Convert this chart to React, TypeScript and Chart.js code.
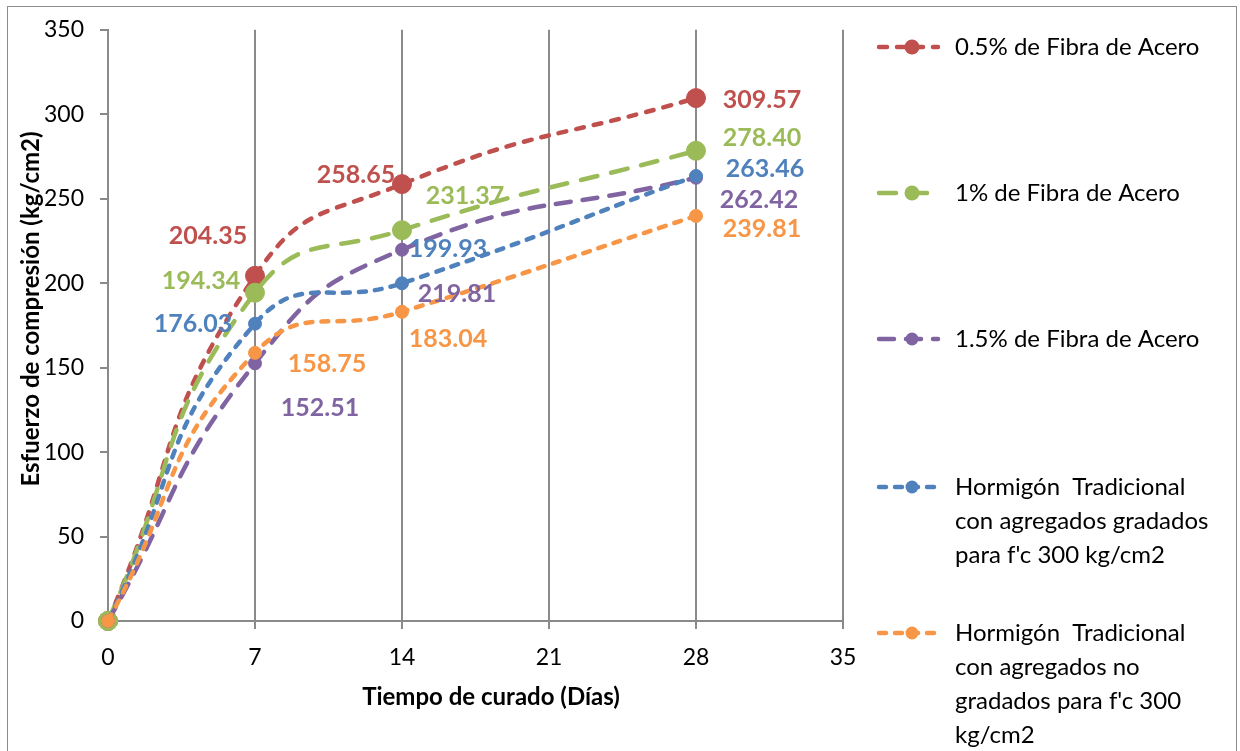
import { useEffect, useRef } from "react";
import { Chart, registerables } from "chart.js";

Chart.register(...registerables);

// ---- data ----
const days = [0, 7, 14, 28];
const fibra05 = [0, 204.35, 258.65, 309.57];
const fibra1 = [0, 194.34, 231.37, 278.4];
const fibra15 = [0, 152.51, 219.81, 262.42];
const tradGradados = [0, 176.03, 199.93, 263.46];
const tradNoGradados = [0, 158.75, 183.04, 239.81];

const seriesNames = [
  "0.5% de Fibra de Acero",
  "1% de Fibra de Acero",
  "1.5% de Fibra de Acero",
  "Hormigón  Tradicional con agregados gradados para f'c 300 kg/cm2",
  "Hormigón  Tradicional con agregados no gradados para f'c 300 kg/cm2",
];
const legendLines = [
  ["0.5% de Fibra de Acero"],
  ["1% de Fibra de Acero"],
  ["1.5% de Fibra de Acero"],
  ["Hormigón  Tradicional", "con agregados gradados", "para f'c 300 kg/cm2"],
  ["Hormigón  Tradicional", "con agregados no", "gradados para f'c 300", "kg/cm2"],
];
const xTitle = "Tiempo de curado (Días)";
const yTitle = "Esfuerzo de compresión (kg/cm2)";
const xMin = 0, xMax = 35, xStep = 7;
const yMin = 0, yMax = 350, yStep = 50;

// ---- styles ----
const colors = ["#C0504D", "#9BBB59", "#8064A2", "#4F81BD", "#F79646"];
const dashes = [[8, 10], [17, 14], [15, 12], [7, 9], [7, 9]];
const pointRadii = [9.5, 9.5, 6.5, 6.5, 6.5];
const legendDotRadii = [7.5, 7.5, 6.5, 6.5, 6.5];
// label offsets (dx, dy) from the point centre, per series per index
const labelOffsets = [
  [null, [-47, -40], [-46, -9], [66, 2]],
  [null, [-54, -12], [63, -34], [66, -13]],
  [null, [65, 45], [55, 44], [63, 22]],
  [null, [-62, 0], [46, -34], [69, -7]],
  [null, [72, 11], [46, 27], [66, 13]],
];
const FONT = "Lato, 'Open Sans', sans-serif";

const allValues = [fibra05, fibra1, fibra15, tradGradados, tradNoGradados];

export default function App() {
  const ref = useRef<HTMLCanvasElement>(null);
  useEffect(() => {
    document.body.style.margin = "0";
    const canvas = ref.current!;
    const datasets = allValues.map((vals, i) => ({
      label: seriesNames[i],
      data: days.map((d, j) => ({ x: d, y: vals[j] })),
      borderColor: colors[i],
      backgroundColor: colors[i],
      pointBackgroundColor: colors[i],
      pointBorderColor: colors[i],
      pointRadius: pointRadii[i],
      pointBorderWidth: 1,
      borderWidth: 4.5,
      borderDash: dashes[i],
      borderCapStyle: "round" as const,
      tension: 0.5,
      clip: false as const,
      order: 5 - i,
    }));

    const decor = {
      id: "decor",
      afterDraw(chart: any) {
        const ctx = chart.ctx as CanvasRenderingContext2D;
        ctx.save();
        // outer border
        ctx.strokeStyle = "#8c8c8c";
        ctx.lineWidth = 1;
        ctx.strokeRect(7.5, 6.5, 1229, 800);
        // data labels
        ctx.font = `bold 25px ${FONT}`;
        ctx.textAlign = "center";
        ctx.textBaseline = "middle";
        chart.data.datasets.forEach((ds: any, i: number) => {
          const meta = chart.getDatasetMeta(i);
          meta.data.forEach((pt: any, j: number) => {
            const off = labelOffsets[i][j];
            if (!off) return;
            ctx.fillStyle = colors[i];
            ctx.fillText(allValues[i][j].toFixed(2), pt.x + off[0], pt.y + off[1]);
          });
        });
        // axis titles
        ctx.fillStyle = "#000";
        ctx.font = `bold 24px ${FONT}`;
        ctx.fillText(xTitle, 491, 697);
        ctx.save();
        ctx.translate(31, 309);
        ctx.rotate(-Math.PI / 2);
        ctx.fillText(yTitle, 0, 0);
        ctx.restore();
        // legend
        const itemY = [47, 193, 339, 487, 633];
        legendLines.forEach((lines, i) => {
          const y = itemY[i];
          ctx.strokeStyle = colors[i];
          ctx.lineWidth = 4.5;
          ctx.lineCap = "round";
          ctx.setLineDash(dashes[i]);
          ctx.beginPath();
          ctx.moveTo(879, y);
          ctx.lineTo(938, y);
          ctx.stroke();
          ctx.setLineDash([]);
          ctx.fillStyle = colors[i];
          ctx.beginPath();
          ctx.arc(912, y, legendDotRadii[i], 0, Math.PI * 2);
          ctx.fill();
          ctx.fillStyle = "#000";
          ctx.font = `24px ${FONT}`;
          ctx.textAlign = "left";
          lines.forEach((t, k) => ctx.fillText(t, 955, y + k * 34));
          ctx.textAlign = "center";
        });
        ctx.restore();
      },
    };

    const chart = new Chart(canvas, {
      type: "line",
      data: { datasets },
      options: {
        animation: false,
        responsive: false,
        devicePixelRatio: 1,
        layout: { padding: { left: 0, top: 24, right: 397, bottom: 0 } },
        plugins: { legend: { display: false }, tooltip: { enabled: false } },
        scales: {
          x: {
            type: "linear",
            min: xMin,
            max: xMax,
            afterFit: (s: any) => { s.height = 130; },
            ticks: { stepSize: xStep, color: "#000", font: { family: FONT, size: 23 }, padding: 15 },
            grid: { color: "#8a8a8a", lineWidth: 2, drawOnChartArea: true, drawTicks: true, tickLength: 8 },
            border: { display: true, color: "#8a8a8a", width: 2 },
          },
          y: {
            min: yMin,
            max: yMax,
            afterFit: (s: any) => { s.width = 108; },
            ticks: { stepSize: yStep, color: "#000", font: { family: FONT, size: 23 }, padding: 16 },
            grid: { color: "#8a8a8a", lineWidth: 2, drawOnChartArea: false, drawTicks: true, tickLength: 8 },
            border: { display: true, color: "#8a8a8a", width: 2 },
          },
        },
      },
      plugins: [decor],
    });
    return () => chart.destroy();
  }, []);
  return <canvas ref={ref} width={1240} height={751} style={{ display: "block" }} />;
}
